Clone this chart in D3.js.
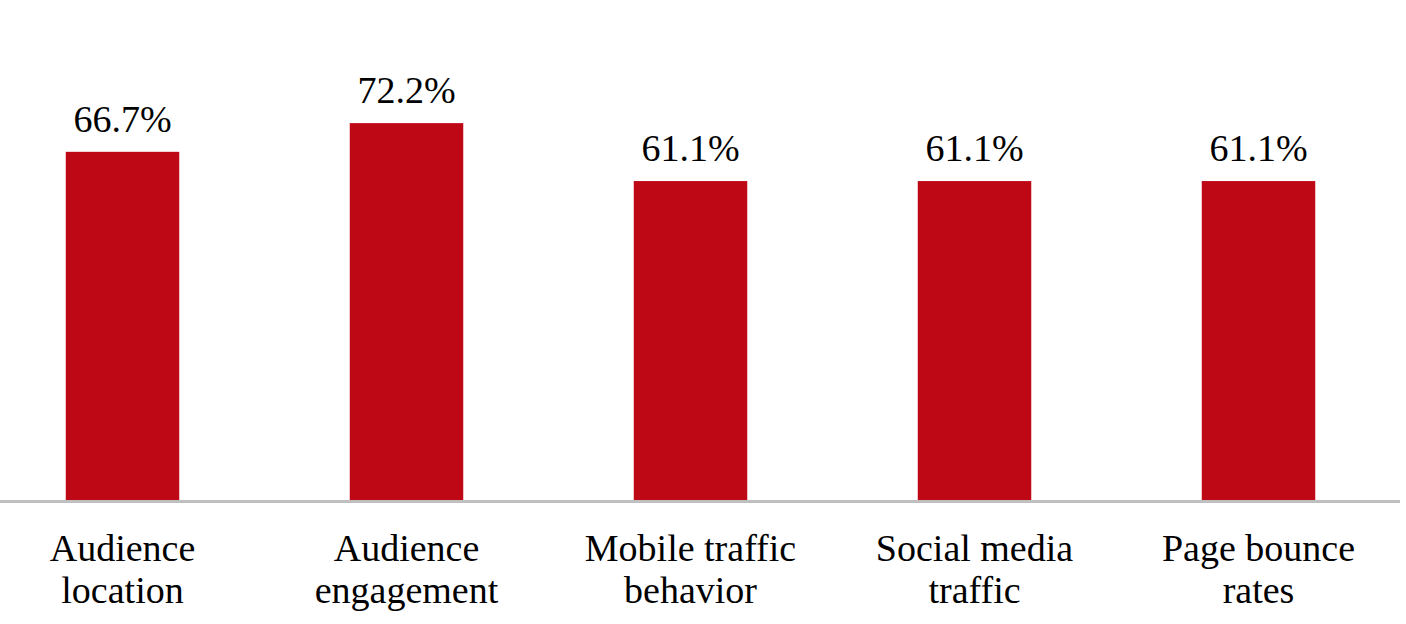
<!DOCTYPE html>
<html>
<head>
<meta charset="utf-8">
<script src="https://cdn.jsdelivr.net/npm/d3@7/dist/d3.min.js"></script>
<style>
  html, body { margin: 0; padding: 0; background: #ffffff; }
  svg { display: block; }
</style>
</head>
<body>
<svg id="chart" width="1406" height="624"></svg>
<script>
const categories = ["Audience location", "Audience engagement", "Mobile traffic behavior", "Social media traffic", "Page bounce rates"];
const categoryLines = [["Audience", "location"], ["Audience", "engagement"], ["Mobile traffic", "behavior"], ["Social media", "traffic"], ["Page bounce", "rates"]];
const values = [66.7, 72.2, 61.1, 61.1, 61.1];
const valueLabels = ["66.7%", "72.2%", "61.1%", "61.1%", "61.1%"];

const FONT = "'Liberation Serif'";
const FONT_SIZE = 38;
const svg = d3.select("#chart");
const baseY = 500;

const x = d3.scaleBand()
  .domain(categories)
  .range([-19.5, 1400.5])
  .paddingInner(0.6004)
  .paddingOuter(0.3002);

const y = d3.scaleLinear()
  .domain([0, 100])
  .range([baseY, baseY - 522]);

svg.append("g").selectAll("rect")
  .data(categories)
  .join("rect")
  .attr("x", d => x(d))
  .attr("width", x.bandwidth())
  .attr("y", (d, i) => y(values[i]))
  .attr("height", (d, i) => y(0) - y(values[i]))
  .attr("fill", "#BF0816");

svg.append("g").selectAll("text")
  .data(categories)
  .join("text")
  .attr("x", d => x(d) + x.bandwidth() / 2)
  .attr("y", (d, i) => y(values[i]) - 20)
  .attr("text-anchor", "middle")
  .attr("font-family", FONT)
  .attr("font-size", FONT_SIZE)
  .attr("fill", "#000")
  .text((d, i) => valueLabels[i]);

// baseline axis
const axis = d3.axisBottom(x).tickSize(0).tickFormat("");
const axisG = svg.append("g").attr("transform", `translate(0,${baseY + 1.5})`).call(axis);
axisG.select(".domain").attr("d", "M0,0H1400").attr("stroke", "#BFBFBF").attr("stroke-width", 3);

const labels = svg.append("g").selectAll("text")
  .data(categories)
  .join("text")
  .attr("text-anchor", "middle")
  .attr("font-family", FONT)
  .attr("font-size", FONT_SIZE)
  .attr("fill", "#000");
labels.each(function(d, i) {
  const t = d3.select(this);
  categoryLines[i].forEach((line, j) => {
    t.append("tspan")
      .attr("x", x(d) + x.bandwidth() / 2)
      .attr("y", 561 + j * 42)
      .text(line);
  });
});
</script>
</body>
</html>
